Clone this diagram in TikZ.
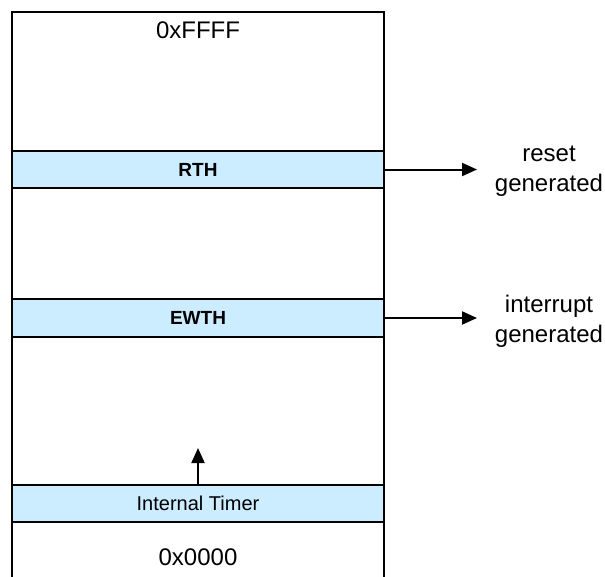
\documentclass[tikz,border=0pt]{standalone}
\usepackage{fontspec}
\setmainfont{Liberation Sans}
\usetikzlibrary{arrows.meta}
\definecolor{bandblue}{RGB}{204,236,255}
\begin{document}
\begin{tikzpicture}[x=1pt,y=-1pt,
  memline/.style={draw=black,line width=2pt},
  band/.style={memline,fill=bandblue,minimum width=372pt,inner sep=0pt,outer sep=0pt},
  lbl/.style={font=\fontsize{24}{30}\selectfont,inner sep=0pt,align=center},
  bandlbl/.style={font=\fontsize{19}{22}\selectfont\bfseries},
  conn/.style={line width=2pt,-{Triangle[length=15pt,width=13pt]}}]
\useasboundingbox (0,0) rectangle (605,576);
\node[memline,minimum width=372pt,minimum height=570pt,inner sep=0pt,outer sep=0pt,anchor=north west] (mem) at (12,12) {};
\node[band,minimum height=37pt,bandlbl] (rth) at (198,169.5) {RTH};
\node[band,minimum height=38pt,bandlbl] (ewth) at (198,318) {EWTH};
\node[band,minimum height=37pt,font=\fontsize{20}{24}\selectfont] (timer) at (198,503.5) {Internal Timer};
\node[lbl] (top) at (198,30) {0xFFFF};
\node[lbl] (bot) at (198,557) {0x0000};
\node[lbl] (reset) at (549,171) {reset\\generated};
\node[lbl] (intr) at (549,321) {interrupt\\generated};
\coordinate (rtip) at (477,169.5);
\coordinate (etip) at (477,318);
\coordinate (utip) at (198,448);
\draw[conn] (rth.east) -- (rtip);
\draw[conn] (ewth.east) -- (etip);
\draw[conn] (timer.north) -- (utip);
\end{tikzpicture}
\end{document}
